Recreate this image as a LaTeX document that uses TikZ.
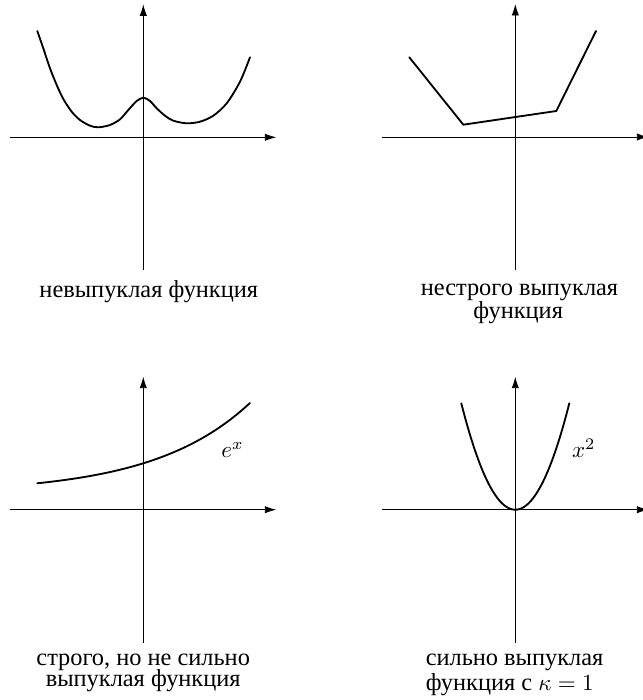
\documentclass[tikz,border=0pt]{standalone}
\usepackage{fontspec}
\setmainfont{Liberation Serif}
\usetikzlibrary{arrows.meta}
\begin{document}
\begin{tikzpicture}[x=0.435pt,y=-0.435pt,
  axis/.style={line width=0.4pt,-{Latex[length=5pt,width=3.2pt]}},
  curve/.style={line width=0.8pt,line join=round,line cap=round},
  lbl/.style={anchor=base,inner sep=0pt,font=\fontsize{10.6}{12}\selectfont},
  lblw/.style={anchor=base west,inner sep=0pt,font=\fontsize{10.6}{12}\selectfont},
  mlbl/.style={inner sep=0pt,font=\fontsize{10}{12}\selectfont}]
\useasboundingbox (0,0) rectangle (642,700);

% axis end points
\coordinate (a1l) at (10.3,137.3);  \coordinate (a1r) at (276.3,137.3);
\coordinate (a1b) at (143.3,270.3); \coordinate (a1t) at (143.3,4.3);
\coordinate (a2l) at (382.3,137);   \coordinate (a2r) at (648.3,137);
\coordinate (a2b) at (515.3,270);   \coordinate (a2t) at (515.3,4);
\coordinate (a3l) at (10.3,509.7);  \coordinate (a3r) at (276.3,509.7);
\coordinate (a3b) at (143.3,642.7); \coordinate (a3t) at (143.3,376.7);
\coordinate (a4l) at (382.3,509.7); \coordinate (a4r) at (648.3,509.7);
\coordinate (a4b) at (515.3,642.7); \coordinate (a4t) at (515.3,376.7);

\foreach \i in {1,2,3,4}{
  \draw[axis] (a\i l) -- (a\i r);
  \draw[axis] (a\i b) -- (a\i t);
}

% non-convex
\draw[curve] plot[smooth,tension=0.5] coordinates {
  (37.3,31) (43.3,48.3) (50,68.3) (56.7,85) (63.3,99) (71.7,111.7)
  (80,120) (90,125.7) (98.3,127.3) (110,125) (120,119.3) (128.3,110)
  (136.7,101) (143.5,97.7) (150,101) (156.7,108.3) (165,115.7)
  (173.3,120.7) (186.7,123.3) (200,121.7) (213.3,115.7) (226.7,103.3)
  (240,81.7) (250,57.3)};

% piecewise linear
\coordinate (p1) at (409.3,57.3);
\coordinate (p2) at (463.3,124.7);
\coordinate (p3) at (556.3,111);
\coordinate (p4) at (596,31);
\draw[curve,line join=miter] (p1) -- (p2) -- (p3) -- (p4);

% exponential
\draw[curve] plot[domain=-106:106.7,samples=80]
  ({143.3+\x},{509.7-16.4-30*exp(1.0986*\x/106.3)});

% parabola
\draw[curve] plot[domain=-54:54,samples=80]
  ({515.3+\x},{509.7-106.4*(\x/54)^2});

% labels
\node[mlbl] (ex) at (232.5,450.3) {$e^x$};
\node[mlbl] (x2) at (583.8,448.3) {$x^2$};

\node[lbl] (t1) at (148.8,297.5) {невыпуклая функция};
\node[lbl] (t2a) at (519.5,295) {нестрого выпуклая};
\node[lbl] (t2b) at (518.2,318.5) {функция};
\node[lbl] (t3a) at (143.2,665) {строго, но не сильно};
\node[lbl] (t3b) at (143.2,686.7) {выпуклая функция};
\node[lblw] (t4a) at (425.3,665) {сильно выпуклая};
\node[lblw] (t4b) at (425.3,690.7) {функция с {\fontsize{10}{12}\selectfont$\kappa = 1$}};
\end{tikzpicture}
\end{document}
